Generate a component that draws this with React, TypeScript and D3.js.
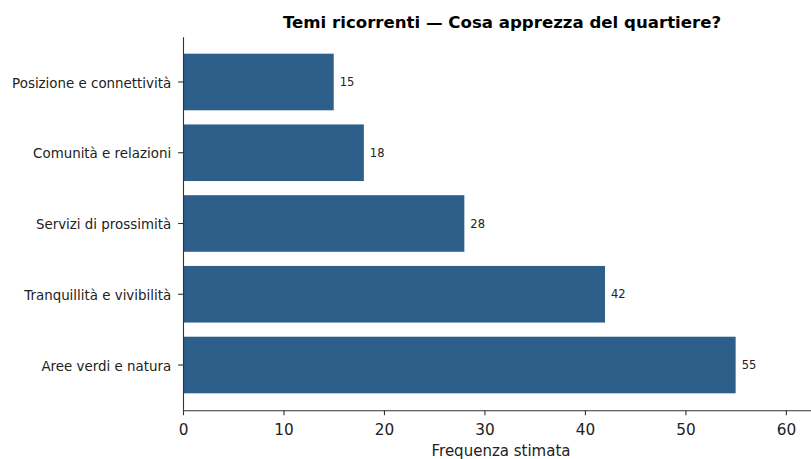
import React, { useEffect, useRef } from 'react';
import * as d3 from 'd3';

const categories = [
	"Posizione e connettività",
	"Comunità e relazioni",
	"Servizi di prossimità",
	"Tranquillità e vivibilità",
	"Aree verdi e natura",
];
const counts = [15, 18, 28, 42, 55];
const xTicks = [0, 10, 20, 30, 40, 50, 60];

const title = "Temi ricorrenti — Cosa apprezza del quartiere?";
const xLabel = "Frequenza stimata";

export default function App() {
	const ref = useRef<SVGSVGElement>(null);

	useEffect(() => {
		document.body.style.margin = '0';
		const width = 811;
		const height = 459;
		const margin = {top: 36.7, right: 0, bottom: 48.7, left: 183};
		const font = "'DejaVu Sans', sans-serif";

		const svg = d3.select(ref.current);
		svg.selectAll("*").remove();

		const x = d3.scaleLinear()
			.domain([0, 62.5])
			.range([margin.left, width - margin.right]);

		const y = d3.scaleBand()
			.domain(categories)
			.range([margin.top, height - margin.bottom])
			.paddingInner(0.2)
			.paddingOuter(0.24);

		const data = categories.map((c, i) => ({label: c, count: counts[i]}));

		svg.append("g")
			.attr("fill", "#2d5f8a")
			.selectAll("rect")
			.data(data)
			.join("rect")
			.attr("x", x(0))
			.attr("y", d => y(d.label)!)
			.attr("width", d => x(d.count) - x(0))
			.attr("height", y.bandwidth());

		svg.append("g")
			.selectAll("text")
			.data(data)
			.join("text")
			.attr("x", d => x(d.count) + 6)
			.attr("y", d => y(d.label)! + y.bandwidth() / 2)
			.attr("dy", "0.35em")
			.attr("font-family", font)
			.attr("font-size", 11.5)
			.attr("fill", "#222")
			.text(d => d.count);

		const yAxis = svg.append("g")
			.attr("transform", `translate(${margin.left},0)`)
			.call(d3.axisLeft(y).tickSize(4.9).tickPadding(7).tickSizeOuter(0));
		yAxis.select(".domain").attr("stroke", "#333").attr("stroke-width", 1.1);
		yAxis.selectAll(".tick line").attr("stroke", "#333").attr("stroke-width", 1.1);
		yAxis.selectAll(".tick text")
			.attr("dy", "0.42em")
			.attr("font-family", font)
			.attr("font-size", 13.4)
			.attr("fill", "#222");

		const xAxis = svg.append("g")
			.attr("transform", `translate(0,${height - margin.bottom})`)
			.call(d3.axisBottom(x).tickValues(xTicks).tickSize(4.9).tickSizeOuter(0));
		xAxis.select(".domain").attr("stroke", "#333").attr("stroke-width", 1.1);
		xAxis.selectAll(".tick line").attr("stroke", "#333").attr("stroke-width", 1.1);
		xAxis.selectAll(".tick text")
			.attr("y", 25)
			.attr("dy", null)
			.attr("font-family", font)
			.attr("font-size", 15.3)
			.attr("fill", "#222");

		svg.append("text")
			.attr("x", 501)
			.attr("y", 456)
			.attr("text-anchor", "middle")
			.attr("font-family", font)
			.attr("font-size", 15)
			.attr("fill", "#222")
			.text(xLabel);

		svg.append("text")
			.attr("x", 502)
			.attr("y", 28)
			.attr("text-anchor", "middle")
			.attr("font-family", font)
			.attr("font-size", 16.6)
			.attr("font-weight", "bold")
			.attr("fill", "#000")
			.text(title);
	}, []);

	return <svg ref={ref} width={811} height={459} style={{display: 'block'}} />;
}
